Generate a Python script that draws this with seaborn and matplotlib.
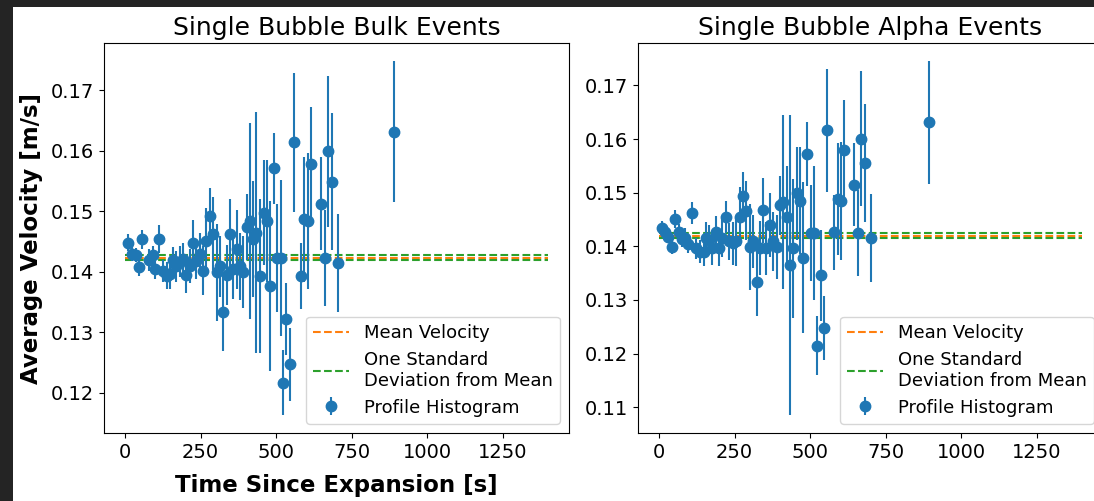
import numpy as np
import pandas as pd
import matplotlib
matplotlib.use("Agg")
import matplotlib.pyplot as plt
import seaborn as sns

# ---------------- data ----------------
bulk_time = [11, 22, 35, 46, 56, 78, 91, 100, 113, 125, 138, 150, 158, 170, 181, 192,
             203, 214, 225, 236, 247, 258, 269, 280, 292, 303, 314, 324, 336, 347, 358,
             369, 380, 391, 402, 413, 424, 435, 446, 460, 471, 479, 493, 504, 515, 524,
             533, 545, 560, 582, 593, 604, 617, 648, 662, 673, 684, 706, 890]
bulk_vel = [.1448, .1430, .1428, .1408, .1454, .1419, .1428, .1405, .1454, .1402, .1394,
            .1396, .1419, .1409, .1417, .1421, .1395, .1409, .1448, .1418, .1430, .1402,
            .1451, .1492, .1463, .1399, .1409, .1333, .1395, .1462, .1405, .1437, .1409,
            .1400, .1474, .1484, .1454, .1465, .1393, .1498, .1484, .1377, .1571, .1423,
            .1423, .1217, .1322, .1247, .1614, .1393, .1487, .1484, .1579, .1513, .1423,
            .1599, .1549, .1415, .1632]
bulk_err = [.0014, .0012, .0012, .0015, .0016, .0018, .0015, .0017, .0023, .0018, .0022,
            .0025, .0022, .0026, .0025, .0026, .0030, .0028, .0037, .0030, .0035, .0040,
            .0055, .0047, .0060, .0080, .0050, .0063, .0050, .0058, .0050, .0065, .0055,
            .0060, .0055, .0162, .0096, .0199, .0127, .0087, .0101, .0140, .0059, .0090,
            .0129, .0054, .0060, .0060, .0115, .0055, .0103, .0113, .0093, .0077, .0080,
            .0125, .0113, .0081, .0117]

alpha_time = [9, 20, 31, 42, 53, 66, 75, 84, 97, 110, 122, 134, 147, 156, 165, 176, 187,
              198, 209, 222, 233, 244, 255, 267, 278, 289, 300, 311, 325, 333, 344, 355,
              367, 377, 389, 400, 411, 422, 434, 444, 455, 466, 477, 489, 502, 513, 524,
              535, 547, 557, 580, 591, 602, 613, 646, 657, 668, 682, 701, 893]
alpha_vel = [.1435, .1426, .1418, .1399, .1451, .1426, .1414, .1416, .1404, .1462, .1396,
             .1390, .1389, .1415, .1412, .1396, .1427, .1396, .1415, .1454, .1409, .1406,
             .1409, .1455, .1494, .1466, .1399, .1409, .1333, .1397, .1467, .1396, .1440,
             .1409, .1399, .1477, .1483, .1455, .1365, .1396, .1499, .1485, .1379, .1572,
             .1425, .1425, .1215, .1346, .1248, .1616, .1426, .1488, .1485, .1580, .1515,
             .1425, .1601, .1556, .1416, .1631]
alpha_err = [.0013, .0012, .0012, .0014, .0016, .0015, .0016, .0018, .0017, .0021, .0020,
             .0022, .0025, .0030, .0028, .0030, .0030, .0032, .0035, .0030, .0035, .0040,
             .0045, .0055, .0045, .0055, .0080, .0050, .0063, .0050, .0060, .0050, .0060,
             .0055, .0060, .0055, .0162, .0095, .0280, .0130, .0087, .0100, .0140, .0060,
             .0090, .0125, .0055, .0085, .0060, .0115, .0070, .0105, .0110, .0092, .0077,
             .0080, .0125, .0110, .0082, .0115]

line_span = [0, 1400]
bulk_mean, bulk_sd = 0.14235, 0.0004
alpha_mean, alpha_sd = 0.1420, 0.0004

titles = ["Single Bubble Bulk Events", "Single Bubble Alpha Events"]
xlabel = "Time Since Expansion [s]"
ylabel = "Average Velocity [m/s]"
legend_labels = ["Mean Velocity", "One Standard\nDeviation from Mean", "Profile Histogram"]

# ---------------- figure ----------------
W, H = 1094, 501
fig = plt.figure(figsize=(W / 100, H / 100), dpi=100, facecolor="#242424")
# white figure canvas inside the dark screenshot border
bg = plt.Rectangle((13 / W, 0), 1 - 13 / W, (H - 7) / H,
                   transform=fig.transFigure, facecolor="white",
                   edgecolor="none", zorder=-10)
fig.add_artist(bg)

ax_w = 465 / W
ax_h = 390 / H
ax_b = (H - 433) / H
ax1 = fig.add_axes([104 / W, ax_b, ax_w, ax_h])
ax2 = fig.add_axes([638 / W, ax_b, ax_w, ax_h])

panels = [
    (ax1, bulk_time, bulk_vel, bulk_err, bulk_mean, bulk_sd),
    (ax2, alpha_time, alpha_vel, alpha_err, alpha_mean, alpha_sd),
]

for i, (ax, t, v, e, m, sd) in enumerate(panels):
    ax.set_facecolor("white")
    lines = pd.DataFrame({"t": line_span, "mean": [m, m],
                          "up": [m + sd, m + sd], "lo": [m - sd, m - sd]})
    sns.lineplot(data=lines, x="t", y="mean", ax=ax, color="C1", linestyle="--",
                 linewidth=1.5, label=legend_labels[0])
    sns.lineplot(data=lines, x="t", y="up", ax=ax, color="C2", linestyle="--",
                 linewidth=1.5, label=legend_labels[1])
    sns.lineplot(data=lines, x="t", y="lo", ax=ax, color="C2", linestyle="--",
                 linewidth=1.5)
    ax.errorbar(t, v, yerr=e, fmt="o", color="C0", markersize=7.5, elinewidth=1.5,
                label=legend_labels[2], zorder=3)
    ax.margins(x=0.05, y=0.05)
    ax.set_title(titles[i], fontsize=18, pad=6)
    ax.set_xticks([0, 250, 500, 750, 1000, 1250])
    ax.tick_params(axis="both", labelsize=14)
    ax.set_xlabel("")
    ax.set_ylabel("")
    handles, labels = ax.get_legend_handles_labels()
    order = [labels.index(l) for l in legend_labels]
    ax.legend([handles[k] for k in order], [labels[k] for k in order],
              loc="lower right", fontsize=13)

ax1.set_xlabel(xlabel, fontsize=16.5, fontweight="bold", labelpad=9)
ax1.set_ylabel(ylabel, fontsize=16.5, fontweight="bold", labelpad=6)
ax1.set_yticks([0.12, 0.13, 0.14, 0.15, 0.16, 0.17])
ax2.set_yticks([0.11, 0.12, 0.13, 0.14, 0.15, 0.16, 0.17])

fig.savefig("out.png", dpi=100, facecolor=fig.get_facecolor())
